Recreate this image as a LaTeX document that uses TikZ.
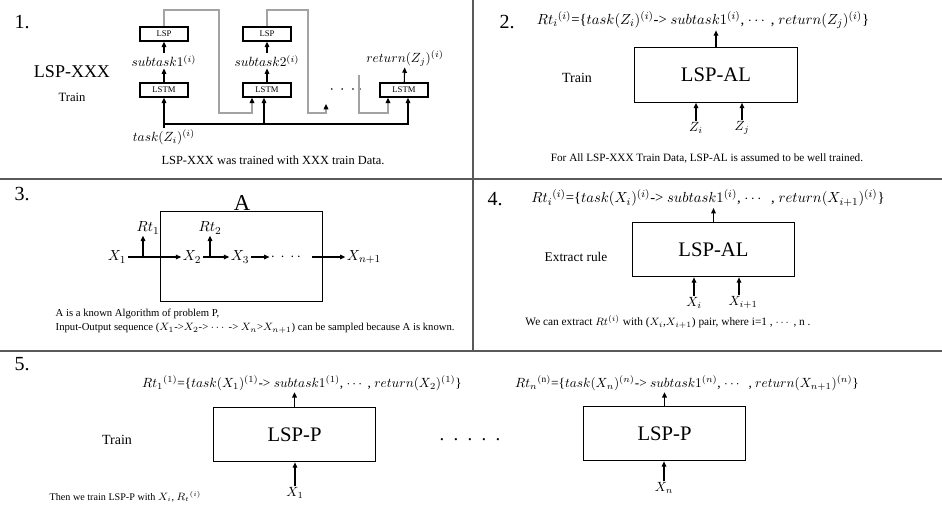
\documentclass[tikz,border=0pt]{standalone}
\usepackage{fontspec}
\setmainfont{Liberation Serif}
\usepackage{amsmath}
\usetikzlibrary{arrows.meta,positioning,calc}
\definecolor{rulegr}{HTML}{595959}
\definecolor{fbgr}{HTML}{A3A3A3}
\newcommand{\fsz}[1]{\fontsize{#1}{#1}\selectfont}

\tikzset{
  cell/.style={draw,line width=1.1pt,minimum width=36pt,minimum height=10.5pt,inner sep=0pt,font=\fsz{6.5}},
  bigbox/.style={draw,line width=0.8pt,minimum width=122pt,minimum height=41pt,font=\fsz{15.5}},
  arr/.style={-{Triangle[length=4pt,width=3.5pt]},line width=0.8pt},
  fbline/.style={fbgr,line width=0.9pt,-{Triangle[length=4pt,width=3.5pt,color=black]}},
  mth/.style={font=\fsz{10},inner sep=1pt},
  rule/.style={font=\fsz{11},inner sep=1pt},
  note/.style={font=\fsz{8}},
  num/.style={font=\fsz{15}},
}

\begin{document}
\begin{tikzpicture}[x=0.75pt,y=-0.75pt]
  \useasboundingbox (0,0) rectangle (942,530);
  % dividers
  \draw[rulegr,line width=1pt] (0,179) -- (942,179);
  \draw[rulegr,line width=1pt] (0,351) -- (942,351);
  \draw[rulegr,line width=1pt] (473,0) -- (473,351);

  % 1: LSP-XXX train
  \node[num] (n1) at (22,22) {1.};
  \node[font=\fsz{13.5}] (xxx) at (72,72) {LSP-XXX};
  \node[font=\fsz{9.5}] (tr1) at (72,97) {Train};
  \node[cell] (lsp1) at (164,34) {LSP};
  \node[mth] (sub1) at (164,61) {$subtask1^{(i)}$};
  \node[cell] (lstm1) at (164,90) {LSTM};
  \node[cell] (lsp2) at (267,34) {LSP};
  \node[mth] (sub2) at (267,61) {$subtask2^{(i)}$};
  \node[cell] (lstm2) at (267,90) {LSTM};
  \node[mth] (ret) at (405,58) {$return(Z_j)^{(i)}$};
  \node[cell] (lstm3) at (404,90) {LSTM};
  \node[mth,font=\fsz{12}] (dots1) at (346,90) {$\cdot\,\cdot\,\cdot\,\cdot$};
  \node[mth] (task) at (164,137) {$task(Z_i)^{(i)}$};
  \draw[arr] (lstm1) -- (sub1);
  \draw[arr] (sub1) -- (lsp1);
  \draw[arr] (lstm2) -- (sub2);
  \draw[arr] (sub2) -- (lsp2);
  \draw[arr] (lstm3) -- (ret);
  % feedback lines
  \coordinate (open) at (326,104);
  \coordinate (fb3) at (359,75);
  \draw[fbline] (lsp1.north) |- (219,10) -- (219,113) -| ($(lstm2.south)+(-15,0)$);
  \draw[fbline] (lsp2.north) |- (308,10) -- (308,113) -| (open);
  \draw[fbline] (fb3) |- (359,113) -| ($(lstm3.south)+(-16,0)$);
  % input bus
  \coordinate (bus) at (164,124);
  \draw[arr] (task) -- (lstm1);
  \draw[arr] (bus) -| ($(lstm2.south)+(-3,0)$);
  \draw[arr] (bus) -| ($(lstm3.south)+(4,0)$);
  \node[note,font=\fsz{9.3}] (c1) at (273,160) {LSP-XXX was trained with XXX train Data.};

  % 2: LSP-AL train
  \node[num] (n2) at (507,22) {2.};
  \node[rule] (rt2) at (703,20) {$Rt_i{}^{(i)}$=\{$task(Z_i)^{(i)}$-> $subtask1^{(i)}$, $\cdots$ , $return(Z_j)^{(i)}$\}};
  \node[bigbox] (al2) at (716,75) {LSP-AL};
  \node[font=\fsz{10.5}] (tr2) at (577,78) {Train};
  \node[mth] (zi) at (696,128) {$Z_i$};
  \node[mth] (zj) at (742,128) {$Z_j$};
  \draw[arr] (al2.north) -- (al2.north |- rt2.south);
  \draw[arr] (zi) -- (zi |- al2.south);
  \draw[arr] (zj) -- (zj |- al2.south);
  \node[note,font=\fsz{8.4}] (c2) at (707,158) {For All LSP-XXX Train Data, LSP-AL is assumed to be well trained.};

  % 3: known algorithm A
  \node[num] (n3) at (22,194) {3.};
  \node[draw,line width=0.8pt,minimum width=122pt,minimum height=67pt] (alg) at (241.5,256.5) {};
  \node[font=\fsz{17}] (aname) at (242,203) {A};
  \node[rule] (x1) at (117,257) {$X_1$};
  \node[rule] (x2) at (192,257) {$X_2$};
  \node[rule] (x3) at (240,257) {$X_3$};
  \node[rule] (dots3) at (286,257) {$\cdot\,\cdot\,\cdot\,\cdot$};
  \node[rule] (xn1) at (364,257) {$X_{n+1}$};
  \node[rule] (rt1) at (148,228) {$Rt_1$};
  \node[rule] (rtb) at (210,228) {$Rt_2$};
  \coordinate (tk1) at (143,257);
  \coordinate (tk2) at (210,257);
  \draw[arr] (x1) -- (x2);
  \draw[arr] (x2) -- (x3);
  \draw[arr] (x3) -- (dots3);
  \draw[arr,shorten <=7pt] (dots3) -- (xn1);
  \draw[arr] (tk1) -- (tk1 |- rt1.south);
  \draw[arr] (tk2) -- (tk2 |- rtb.south);
  \node[note,anchor=north west,align=left] (c3) at (51,304)
    {A is a known Algorithm of problem P,\\[3pt]
     Input-Output sequence ($X_1$->$X_2$-> $\cdots$ -> $X_n$>$X_{n+1}$) can be sampled because A is known.};

  % 4: extract rule
  \node[num] (n4) at (495,199) {4.};
  \node[rule] (rt4) at (708,198) {$Rt_i{}^{(i)}$=\{$task(X_i)^{(i)}$-> $subtask1^{(i)}$, $\cdots$ \ , $return(X_{i+1})^{(i)}$\}};
  \node[bigbox] (al4) at (713.5,249.5) {LSP-AL};
  \node[font=\fsz{10}] (ex4) at (576,257) {Extract rule};
  \node[mth] (xi) at (694,303) {$X_i$};
  \node[mth] (xi1) at (743,303) {$X_{i+1}$};
  \draw[arr] (al4.north) -- (al4.north |- rt4.south);
  \draw[arr] (xi) -- (xi |- al4.south);
  \draw[arr] ($(xi1.north)+(-4,0)$) -- ($(xi1.north |- al4.south)+(-4,0)$);
  \node[note,font=\fsz{8.5}] (c4) at (668,322) {We can extract $Rt^{(i)}$ with ($X_i$,$X_{i+1}$) pair, where i=1 , $\cdots$ , n .};

  % 5: train LSP-P
  \node[num] (n5) at (22,364) {5.};
  \node[mth] (rp1) at (302,383) {$Rt_1{}^{(1)}$=\{$task(X_1)^{(1)}$-> $subtask1^{(1)}$, $\cdots$ , $return(X_2)^{(1)}$\}};
  \node[bigbox] (lp1) at (294.5,434.5) {LSP-P};
  \node[font=\fsz{10.5}] (tr5) at (117,440) {Train};
  \node[mth] (px1) at (295,493) {$X_1$};
  \draw[arr] (lp1.north) -- (lp1.north |- rp1.south);
  \draw[arr] (px1) -- (px1 |- lp1.south);
  \node[font=\fsz{14}] (dots5) at (470,440) {.\ \ .\ \ .\ \ .\ \ .};
  \node[mth] (rpn) at (687,383) {$Rt_n{}^{(\mathrm{n})}$=\{$task(X_n)^{(n)}$-> $subtask1^{(n)}$, $\cdots$ \ , $return(X_{n+1})^{(n)}$\}};
  \node[bigbox] (lpn) at (664.5,433.5) {LSP-P};
  \node[mth] (pxn) at (664,488) {$X_n$};
  \draw[arr] (lpn.north) -- (lpn.north |- rpn.south);
  \draw[arr] (pxn) -- (pxn |- lpn.south);
  \node[note,font=\fsz{7.6},anchor=west] (c5) at (45,497) {Then we train LSP-P with $X_i$, $R_t{}^{(i)}$};
\end{tikzpicture}
\end{document}
